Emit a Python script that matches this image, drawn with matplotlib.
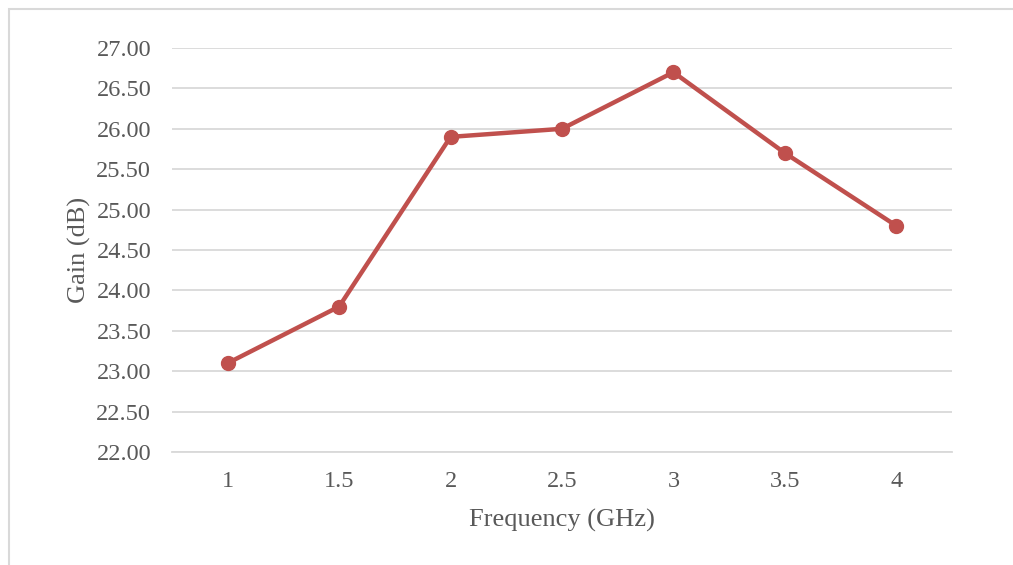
import matplotlib.pyplot as plt
from matplotlib.patches import Rectangle

categories = ['1', '1.5', '2', '2.5', '3', '3.5', '4']
gain_db = [23.10, 23.80, 25.90, 26.00, 26.70, 25.70, 24.80]
y_ticks = [22.0, 22.5, 23.0, 23.5, 24.0, 24.5, 25.0, 25.5, 26.0, 26.5, 27.0]

plt.rcParams['font.family'] = ['Liberation Serif', 'DejaVu Serif']
text_color = '#595959'
grid_color = '#D9D9D9'

fig = plt.figure(figsize=(10.13, 5.65), dpi=100)
ax = fig.add_axes([172 / 1013, 1 - 452 / 565, 780 / 1013, 404 / 565])

x = list(range(len(categories)))
ax.plot(x, gain_db, color='#C0504D', linewidth=3.2, marker='o', markersize=10,
        solid_capstyle='round', zorder=3)

ax.set_xlim(-0.5, len(categories) - 0.5)
ax.set_ylim(22.0, 27.0)
ax.set_xticks(x)
ax.set_xticklabels(categories)
ax.set_yticks(y_ticks)
ax.set_yticklabels([f'{v:.2f}' for v in y_ticks])
ax.tick_params(axis='both', length=0, labelsize=17.5, labelcolor=text_color)
ax.tick_params(axis='x', pad=14)
ax.tick_params(axis='y', pad=15)

ax.grid(axis='y', color=grid_color, linewidth=1.3)
ax.set_axisbelow(True)
for side in ['top', 'right', 'left']:
    ax.spines[side].set_visible(False)
ax.spines['bottom'].set_color(grid_color)
ax.spines['bottom'].set_linewidth(1.3)

ax.set_xlabel('Frequency (GHz)', fontsize=19, color=text_color, labelpad=12)
ax.set_ylabel('Gain (dB)', fontsize=19, color=text_color, labelpad=4)

# chart frame (only top and left edges fall inside the picture)
fig.patches.append(Rectangle((9 / 1013, -0.1), 1.2, 1 - 8.5 / 565 + 0.1,
                             transform=fig.transFigure, fill=False,
                             edgecolor=grid_color, linewidth=1.5))

fig.savefig('out.png', dpi=100)
